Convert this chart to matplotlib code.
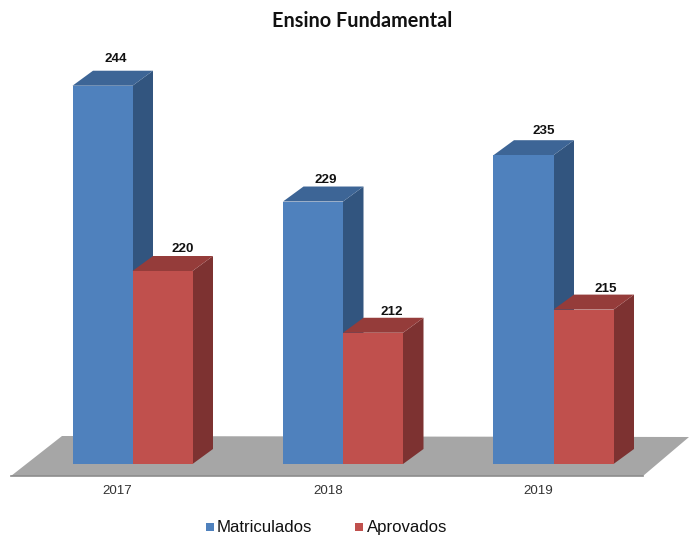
import matplotlib
matplotlib.use("Agg")
import matplotlib.pyplot as plt
from matplotlib.patches import Polygon, Rectangle

anos = ["2017", "2018", "2019"]
matriculados = [244, 229, 235]
aprovados = [220, 212, 215]

W, H = 689, 537
BASE_PX = 464      # y of the bar feet, pixels
ESC_X = 210.5      # pixels per category
ESC_Y = 7.72       # pixels per unit
BASE_V = 195       # value at the bar feet
X0_PX = 132.5

largura = 60 / ESC_X
dx = 20.5 / ESC_X
dy = 15 / ESC_Y

# label nudges in pixels (right, up) from the bar centre / back of the top
nudge_mat = [(13, 12), (13, 7), (20, 9)]
nudge_apr = [(20, 7), (19, 6), (22, 6)]

fig = plt.figure(figsize=(W / 100, H / 100), dpi=100)
ax = fig.add_axes([0, 0, 1, 1])
ax.set_xlim(-X0_PX / ESC_X, (W - X0_PX) / ESC_X)
ax.set_ylim(BASE_V - (H - BASE_PX) / ESC_Y, BASE_V + BASE_PX / ESC_Y)
ax.axis("off")


def px(x, y):
    # pixel position -> data position, only for the floor and texts
    return (x - X0_PX) / ESC_X, BASE_V + (BASE_PX - y) / ESC_Y


# chao
chao = [px(11, 476), px(643, 476), px(689, 437), px(62, 436)]
ax.add_patch(Polygon(chao, closed=True, fc="#a6a6a6", ec="none", zorder=1))
ax.plot(*zip(px(11, 476), px(643, 476)), color="#8c8c8c", lw=1.2, zorder=1.5)


def barra(x, v, cor, cor_topo, cor_lado, z, nudge):
    ax.add_patch(Rectangle((x, BASE_V), largura, v - BASE_V, fc=cor, ec="none", zorder=z + 0.2))
    topo = [(x, v), (x + largura, v), (x + largura + dx, v + dy), (x + dx, v + dy)]
    lado = [(x + largura, BASE_V), (x + largura + dx, BASE_V + dy),
            (x + largura + dx, v + dy), (x + largura, v)]
    ax.add_patch(Polygon(topo, closed=True, fc=cor_topo, ec="none", zorder=z + 0.1))
    ax.add_patch(Polygon(lado, closed=True, fc=cor_lado, ec="none", zorder=z))
    ax.text(x + largura / 2 + nudge[0] / ESC_X, v + dy + nudge[1] / ESC_Y, str(v), ha="center",
            va="center", fontsize=9.6, fontweight="bold", family="Liberation Sans",
            color="#111111", zorder=6)


for i in range(len(anos)):
    barra(i - largura, matriculados[i], "#4f81bd", "#3d6596", "#32557f", 2, nudge_mat[i])
    barra(i, aprovados[i], "#c0504d", "#953c3a", "#7d3231", 3, nudge_apr[i])
    ax.text(i - 15 / ESC_X, px(0, 491)[1], anos[i], ha="center", va="center", fontsize=9.6,
            family="Liberation Sans", color="#333333")

ax.text(*px(362, 21), "Ensino Fundamental", ha="center", va="center", fontsize=14.3,
        fontweight="bold", family="Lato", color="#111111")

# legenda
ax.add_patch(Rectangle(px(206, 531), 8 / ESC_X, 8 / ESC_Y, fc="#4f81bd", ec="none"))
ax.add_patch(Rectangle(px(355, 531), 8 / ESC_X, 8 / ESC_Y, fc="#c0504d", ec="none"))
ax.text(*px(217, 532), "Matriculados", ha="left", va="baseline", fontsize=12.1,
        family="Liberation Sans", color="#111111")
ax.text(*px(367, 532), "Aprovados", ha="left", va="baseline", fontsize=12.1,
        family="Liberation Sans", color="#111111")

fig.savefig("out.png", dpi=100)
